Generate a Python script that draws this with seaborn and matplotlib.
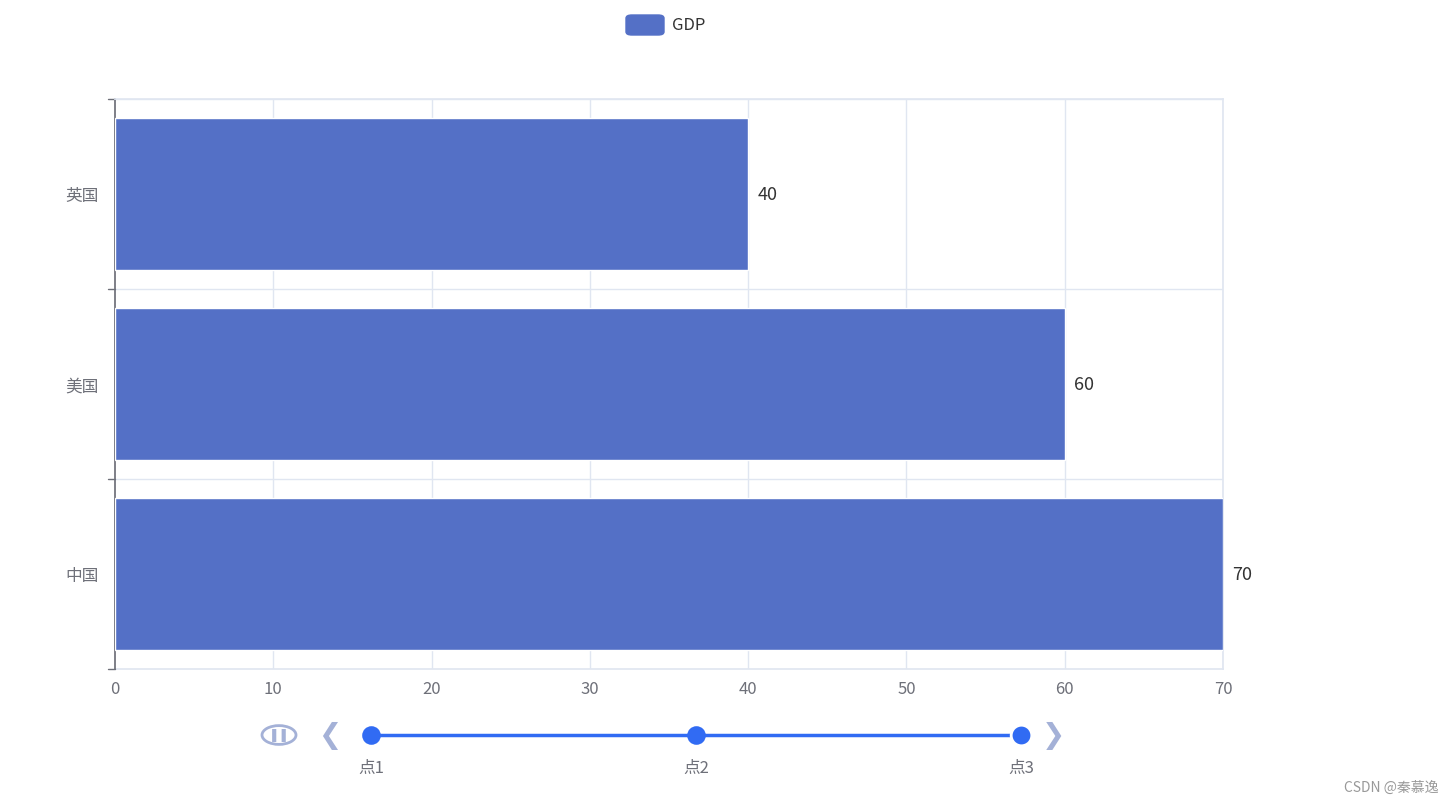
import matplotlib
matplotlib.use("Agg")
import matplotlib.pyplot as plt
import seaborn as sns
import pandas as pd
from matplotlib.patches import FancyBboxPatch, Circle

countries = ["中国", "美国", "英国"]
gdp = [70, 60, 40]
timeline_labels = ["点1", "点2", "点3"]
current_point = 2

sns.set_theme(style="white")
plt.rcParams['font.family'] = ['Noto Sans CJK SC', 'DejaVu Sans']

W, H = 1455, 804
fig = plt.figure(figsize=(W / 100, H / 100), dpi=100)
ax = fig.add_axes([115 / W, 1 - 670 / H, (1223 - 115) / W, (670 - 100) / H])

df = pd.DataFrame({"country": countries, "gdp": gdp})
bar_color = "#5470c6"
ax.barh(range(len(df)), df["gdp"], height=0.8, color=bar_color, zorder=3)
ax.set_ylim(-0.5, len(df) - 0.5)
ax.set_xlim(0, 70)
ax.set_xticks(range(0, 71, 10))
ax.set_yticks(range(len(df)))
ax.set_yticklabels(df["country"])
ax.tick_params(axis="y", length=0, pad=12, labelsize=12, colors="#6e7079")
ax.tick_params(axis="x", length=0, pad=8, labelsize=12, colors="#6e7079")

grid_c = "#e0e6f1"
for x in range(10, 71, 10):
    ax.axvline(x, color=grid_c, lw=1, zorder=1)
for y in [0.5, 1.5, 2.5]:
    ax.axhline(y, color=grid_c, lw=1, zorder=1)
for s in ["top", "right", "bottom"]:
    ax.spines[s].set_color(grid_c)
ax.spines["left"].set_color("#6e7079")
ax.spines["bottom"].set_zorder(0)
# category boundary ticks on the left axis
for y in [-0.5, 0.5, 1.5, 2.5]:
    ax.plot([-0.006, 0], [y, y], transform=ax.get_yaxis_transform(),
            color="#6e7079", lw=1, clip_on=False)

for i, v in enumerate(df["gdp"]):
    ax.text(v + 0.6, i, str(v), va="center", ha="left", fontsize=13, color="#333333")

# legend
fig.patches.append(FancyBboxPatch((626 / W, 1 - 36 / H), 38 / W, 20 / H,
                                  boxstyle="round,pad=0,rounding_size=0.004",
                                  transform=fig.transFigure, color=bar_color))
fig.text(672 / W, 1 - 26 / H, "GDP", va="center", ha="left", fontsize=12, color="#333333")

# timeline
tl = fig.add_axes([371 / W, 1 - 790 / H, (1021 - 371) / W, 80 / H])
tl.set_xlim(0, len(timeline_labels) - 1)
tl.set_ylim(0, 80)
tl.axis("off")
line_c = "#316bf3"
xs = list(range(len(timeline_labels)))
tl.plot([xs[0], xs[-1]], [54, 54], color=line_c, lw=2.5, clip_on=False)
for i, lab in zip(xs, timeline_labels):
    size = 220 if i == current_point else 130
    tl.scatter([i], [54], s=size, color=line_c, zorder=4, clip_on=False,
               edgecolors="white" if i == current_point else line_c, linewidths=2)
    tl.text(i, 22, lab, ha="center", va="center", fontsize=12, color="#6e7079")

ctrl_c = "#a4b1d7"
fig.patches.append(Circle((279 / W, 1 - 736 / H), 17 / W, transform=fig.transFigure,
                          fill=False, ec=ctrl_c, lw=2))
fig.text(279 / W, 1 - 736 / H, "❚❚", ha="center", va="center", fontsize=9,
         color=ctrl_c, family=["DejaVu Sans"])
fig.text(330 / W, 1 - 736 / H, "❮", ha="center", va="center", fontsize=20,
         color=ctrl_c, family=["DejaVu Sans"])
fig.text(1053 / W, 1 - 736 / H, "❯", ha="center", va="center", fontsize=20,
         color=ctrl_c, family=["DejaVu Sans"])

fig.text(1438 / W, 1 - 788 / H, "CSDN @秦慕逸", ha="right", va="center",
         fontsize=10, color="#999999")

fig.savefig("out.png", dpi=100)
